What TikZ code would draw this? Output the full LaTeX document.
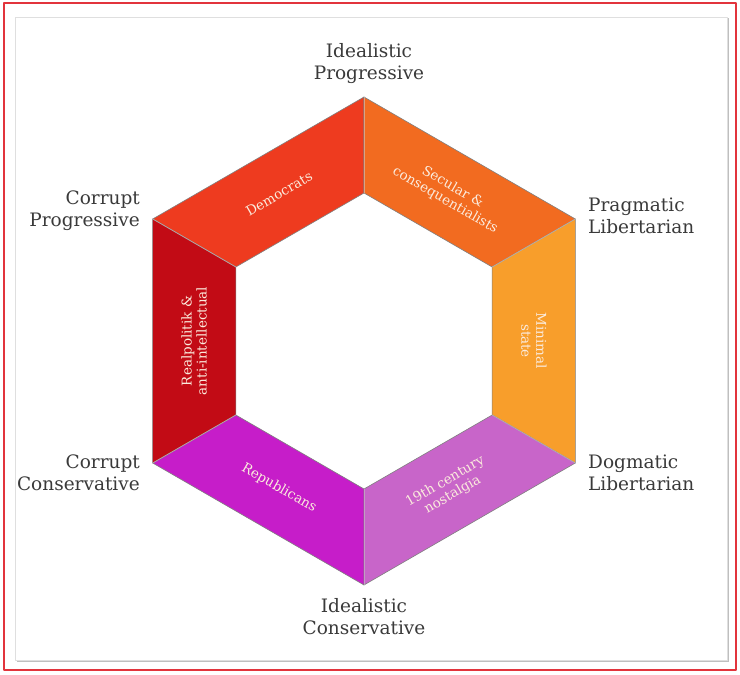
\documentclass[tikz,border=0pt]{standalone}
\usepackage{fontspec}
\setmainfont{DejaVu Serif}
\definecolor{framered}{HTML}{E2343C}
\definecolor{labelgray}{HTML}{3A3A3A}
\definecolor{bandtext}{HTML}{FBEBDD}
\definecolor{demred}{HTML}{EE3B1F}
\definecolor{secorange}{HTML}{F26B20}
\definecolor{minorange}{HTML}{F89E2B}
\definecolor{nostpurple}{HTML}{C865C9}
\definecolor{reppurple}{HTML}{C61DC9}
\definecolor{realred}{HTML}{C20B15}
\tikzset{
  corner/.style={text=labelgray, inner sep=0pt, align=center, font=\fontsize{18.5}{22}\selectfont},
  bandlabel/.style={text=bandtext, inner sep=0pt, align=center, font=\fontsize{13.5}{15}\selectfont},
}
\begin{document}
\begin{tikzpicture}[x=1pt, y=1pt, line join=round, line cap=round]
    \useasboundingbox (0,0) rectangle (740,675);
    % frames
    \draw[framered, line width=2pt] (3.5,5) rectangle (735.5,671.5);
    \fill[gray!50] (16.5,13) rectangle (729,656.5);
    \filldraw[fill=white, draw=gray!25] (15,15) rectangle (727,658);
    % hexagon bands
    \begin{scope}[shift={(364,334)}]
        \def\rout{244}\def\rin{148}
        \foreach \a/\n/\col/\rot/\txt in {90/dem/demred/30/{Democrats},
                                         30/sec/secorange/-30/{Secular \&\\consequentialists},
                                         -30/mini/minorange/-90/{Minimal\\state},
                                         -90/nost/nostpurple/30/{19th century\\nostalgia},
                                         -150/rep/reppurple/-30/{Republicans},
                                         150/real/realred/90/{Realpolitik \&\\anti-intellectual}}
        {
            \filldraw[fill=\col, draw=black!50, line width=.6pt] (\a:\rout) -- (\a+60:\rout) -- (\a+60:\rin) -- (\a:\rin) -- cycle;
            \node[bandlabel, rotate=\rot] (\n) at (\a+30:170) {\txt};
        }
        \foreach \a in {30,90,...,330}\draw[white, opacity=.35, line width=.8pt] (\a:\rin)--(\a:\rout);
    \end{scope}
    % corner labels
    \node[corner] (ip) at (369,611) {Idealistic\\Progressive};
    \node[corner, anchor=west, align=left] (pl) at (588,459) {Pragmatic\\Libertarian};
    \node[corner, anchor=west, align=left] (dl) at (588,202) {Dogmatic\\Libertarian};
    \node[corner, anchor=east, align=right] (cp) at (140,464) {Corrupt\\Progressive};
    \node[corner, anchor=east, align=right] (cc) at (140,202) {Corrupt\\Conservative};
    \node[corner] (ic) at (364,58) {Idealistic\\Conservative};
\end{tikzpicture}
\end{document}
